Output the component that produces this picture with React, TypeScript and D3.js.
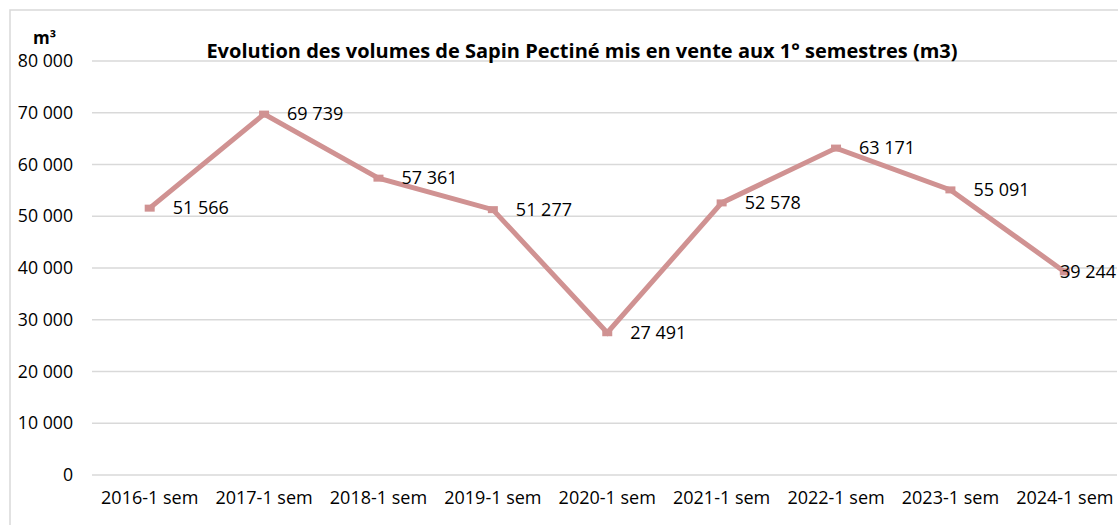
import React, { useEffect, useRef } from 'react';
import * as d3 from 'd3';

const categories = [
  '2016-1 sem', '2017-1 sem', '2018-1 sem', '2019-1 sem', '2020-1 sem',
  '2021-1 sem', '2022-1 sem', '2023-1 sem', '2024-1 sem'
];
const volumes = [51566, 69739, 57361, 51277, 27491, 52578, 63171, 55091, 39244];
const yTicks = [0, 10000, 20000, 30000, 40000, 50000, 60000, 70000, 80000];

const title = 'Evolution des volumes de Sapin Pectiné mis en vente aux 1° semestres (m3)';
const font = '"Open Sans", sans-serif';

const fmt = (v: number) => d3.format(',')(v).replace(/,/g, ' ');

const App = () => {
  const ref = useRef<SVGSVGElement>(null);

  useEffect(() => {
    document.body.style.margin = '0';
    const width = 1118;
    const height = 525;
    const svg = d3.select(ref.current).attr('width', width).attr('height', height);
    svg.selectAll('*').remove();

    // chart frame
    svg.append('rect')
      .attr('x', 10).attr('y', 10)
      .attr('width', width + 20).attr('height', height + 20)
      .attr('fill', '#fff').attr('stroke', '#d9d9d9').attr('stroke-width', 1.5);

    const x = d3.scaleBand().domain(categories).range([92.5, 1122]);
    const y = d3.scaleLinear().domain([0, 80000]).range([475, 61]);

    // gridlines
    svg.append('g').selectAll('line').data(yTicks).enter().append('line')
      .attr('x1', 92).attr('x2', 1117)
      .attr('y1', d => y(d)).attr('y2', d => y(d))
      .attr('stroke', '#d9d9d9').attr('stroke-width', 1.5);

    // y tick labels
    svg.append('g').selectAll('text').data(yTicks).enter().append('text')
      .attr('x', 73).attr('y', d => y(d))
      .attr('dy', '0.35em')
      .attr('text-anchor', 'end')
      .style('font-family', font).style('font-size', '17.7px').style('fill', '#000')
      .text(d => fmt(d));

    // x tick labels
    svg.append('g').selectAll('text').data(categories).enter().append('text')
      .attr('x', d => x(d)! + x.bandwidth() / 2).attr('y', 504)
      .attr('text-anchor', 'middle')
      .style('font-family', font).style('font-size', '18px').style('fill', '#000')
      .text(d => d);

    const px = (i: number) => x(categories[i])! + x.bandwidth() / 2;

    const line = d3.line<number>()
      .x((_, i) => px(i))
      .y(d => y(d));

    svg.append('path')
      .datum(volumes)
      .attr('d', line)
      .attr('fill', 'none')
      .attr('stroke', '#d09292')
      .attr('stroke-width', 5)
      .attr('stroke-linejoin', 'miter');

    // markers
    svg.append('g').selectAll('rect').data(volumes).enter().append('rect')
      .attr('x', (_, i) => px(i) - 5).attr('y', d => y(d) - 3.5)
      .attr('width', 10).attr('height', 7)
      .attr('fill', '#d09292');

    // data labels
    svg.append('g').selectAll('text').data(volumes).enter().append('text')
      .attr('x', (_, i) => Math.min(px(i) + 23, width - 58))
      .attr('y', d => y(d))
      .attr('dy', '0.35em')
      .style('font-family', font).style('font-size', '18px').style('fill', '#000')
      .text(d => fmt(d));

    svg.append('text')
      .attr('x', 582).attr('y', 58)
      .attr('text-anchor', 'middle')
      .style('font-family', font).style('font-size', '20px').style('font-weight', 'bold')
      .style('fill', '#000')
      .text(title);

    svg.append('text')
      .attr('x', 33).attr('y', 44)
      .style('font-family', font).style('font-size', '17px').style('font-weight', 'bold')
      .style('fill', '#000')
      .text('m³');
  }, []);

  return <svg ref={ref} style={{ display: 'block' }}></svg>;
};

export default App;
